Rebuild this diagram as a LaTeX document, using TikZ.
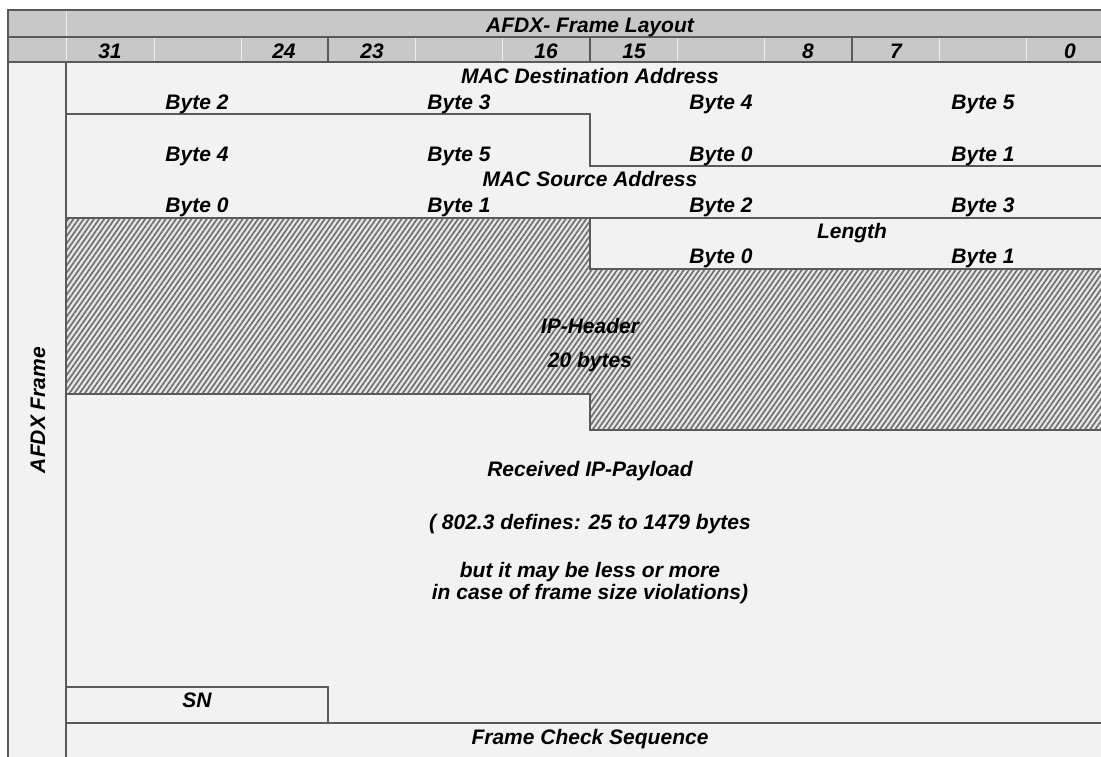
\documentclass[tikz,border=0pt]{standalone}
\usepackage{fontspec}
\setmainfont{Liberation Sans}
\usetikzlibrary{patterns.meta}
\definecolor{hdrgray}{HTML}{C8C8C8}
\definecolor{bodygray}{HTML}{F2F2F2}
\definecolor{rulegray}{HTML}{5A5A5A}
\definecolor{hatchbg}{HTML}{E6E6E6}
\definecolor{hatchline}{HTML}{707070}

\begin{document}
\begin{tikzpicture}[
    x=1pt, y=-1pt,
    font=\fontsize{21}{25}\selectfont\bfseries\itshape,
    rule/.style={draw=rulegray, line width=1.4pt},
    faint/.style={draw=white!70!hdrgray, line width=1pt},
    lbl/.style={anchor=base, inner sep=0pt},
    hatched/.style={pattern={Lines[angle=55, distance=4.2pt, line width=1.7pt]}, pattern color=hatchline}
]
\useasboundingbox (0,0) rectangle (1101,756);
\clip (0,0) rectangle (1101,756);

\fill[hdrgray] (8,10) rectangle (1114,62);
\fill[bodygray] (8,62) rectangle (1114,760);
\fill[hatchbg] (66,218) -- (590,218) -- (590,269) -- (1114,269) -- (1114,430) -- (590,430) -- (590,394) -- (66,394) -- cycle;
\path[hatched] (66,218) -- (590,218) -- (590,269) -- (1114,269) -- (1114,430) -- (590,430) -- (590,394) -- (66,394) -- cycle;

\draw[faint] (66,10) -- (66,37) (66,37) -- (66,62) (154,37) -- (154,62) (241,37) -- (241,62)
    (415,37) -- (415,62) (502,37) -- (502,62) (677,37) -- (677,62) (764,37) -- (764,62)
    (939,37) -- (939,62) (1026,37) -- (1026,62);
\draw[rule] (8,10) rectangle (1114,760);
\draw[rule] (8,37) -- (1114,37);
\draw[rule] (8,62) -- (1114,62);
\draw[rule] (66,62) -- (66,760);
\draw[rule] (328,37) -- (328,62) (590,37) -- (590,62) (852,37) -- (852,62);

\draw[rule] (66,114) -- (590,114) -- (590,166) -- (1114,166);
\draw[rule] (66,218) -- (1114,218);
\draw[rule] (66,218) -- (590,218) -- (590,269) -- (1114,269);
\draw[rule] (66,394) -- (590,394) -- (590,430) -- (1114,430);
\draw[rule] (66,687) -- (328,687) -- (328,723);
\draw[rule] (66,723) -- (1114,723);

\node[lbl] (title) at (590,32) {AFDX- Frame Layout};
\node[lbl] (bit31) at (110,58) {31};
\node[lbl] (bit24) at (284,58) {24};
\node[lbl] (bit23) at (372,58) {23};
\node[lbl] (bit16) at (546,58) {16};
\node[lbl] (bit15) at (634,58) {15};
\node[lbl] (bit8) at (808,58) {8};
\node[lbl] (bit7) at (896,58) {7};
\node[lbl] (bit0) at (1070,58) {0};

\node[lbl] (macdst) at (590,83) {MAC Destination Address};
\node[lbl] (dst2) at (197,109) {Byte 2};
\node[lbl] (dst3) at (459,109) {Byte 3};
\node[lbl] (dst4) at (721,109) {Byte 4};
\node[lbl] (dst5) at (983,109) {Byte 5};
\node[lbl] (dstb4) at (197,161) {Byte 4};
\node[lbl] (dstb5) at (459,161) {Byte 5};
\node[lbl] (src0) at (721,161) {Byte 0};
\node[lbl] (src1) at (983,161) {Byte 1};
\node[lbl] (macsrc) at (590,186) {MAC Source Address};
\node[lbl] (dstc0) at (197,212) {Byte 0};
\node[lbl] (dstc1) at (459,212) {Byte 1};
\node[lbl] (src2) at (721,212) {Byte 2};
\node[lbl] (src3) at (983,212) {Byte 3};
\node[lbl] (len) at (852,238) {Length};
\node[lbl] (len0) at (721,263) {Byte 0};
\node[lbl] (len1) at (983,263) {Byte 1};

\node[lbl] (iphdr) at (590,333) {IP-Header};
\node[lbl] (iplen) at (590,367) {20 bytes};

\node[lbl] (payload) at (590,476) {Received IP-Payload};
\node[lbl] (pay1) at (590,529) {( 802.3 defines: 25 to 1479 bytes};
\node[lbl] (pay2) at (590,577) {but it may be less or more};
\node[lbl] (pay3) at (590,599) {in case of frame size violations)};

\node[lbl] (sn) at (197,707) {SN};
\node[lbl] (fcs) at (590,744) {Frame Check Sequence};

\node[inner sep=0pt, rotate=90] (frame) at (38,410) {AFDX Frame};
\end{tikzpicture}
\end{document}
